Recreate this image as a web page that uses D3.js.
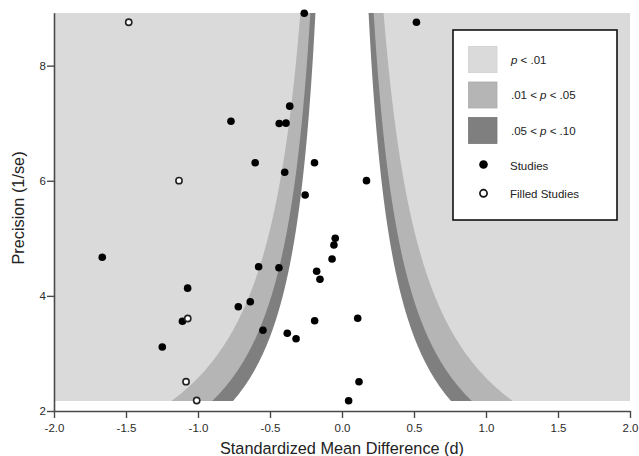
<!DOCTYPE html>
<html>
<head>
<meta charset="utf-8">
<script src="https://cdn.jsdelivr.net/npm/d3@7/dist/d3.min.js"></script>
<style>
  html, body { margin: 0; padding: 0; background: #fff; }
  svg { display: block; font-family: "Liberation Sans", Arial, sans-serif; }
</style>
</head>
<body>
<svg id="chart" width="639" height="456"></svg>
<script>
// ---- data ----
const studyD    = [-0.262, 0.517, -0.363, -0.771, -0.436, -0.389, -0.603, -0.191, -0.398, 0.170,
                   -0.256, -0.047, -0.056, -0.069, -0.176, -0.153, -0.579, -0.438, -1.665, -1.072,
                   -0.720, -0.637, -1.108, -0.549, -0.380, -0.319, -0.190, 0.109, -1.248, 0.118, 0.046];
const studyPrec = [8.911, 8.754, 7.296, 7.034, 6.996, 7.001, 6.313, 6.313, 6.148, 6.002,
                   5.753, 5.001, 4.884, 4.641, 4.427, 4.288, 4.507, 4.490, 4.671, 4.134,
                   3.812, 3.899, 3.559, 3.402, 3.350, 3.256, 3.569, 3.611, 3.112, 2.509, 2.179];
const filledD    = [-1.481, -1.132, -1.071, -1.083, -1.009];
const filledPrec = [8.754, 6.002, 3.607, 2.509, 2.182];

const zCrit = [2.576, 1.96, 1.645];           // p = .01, .05, .10 contours
const contourFills = ["#b5b5b5", "#7f7f7f", "#ffffff"];
const xTicks = [-2, -1.5, -1, -0.5, 0, 0.5, 1, 1.5, 2];
const xTickLabels = ["-2.0", "-1.5", "-1.0", "-0.5", "0.0", "0.5", "1.0", "1.5", "2.0"];
const yTicks = [2, 4, 6, 8];
const legendLabels = [["p", " < .01"], [".01 < ", "p", " < .05"], [".05 < ", "p", " < .10"]];
const legendFills = ["#dadada", "#b5b5b5", "#7f7f7f"];

// ---- scales ----
const svg = d3.select("#chart");
const x = d3.scaleLinear().domain([-2, 2]).range([54, 630]);
const y = d3.scaleLinear().domain([2, 8.92]).range([411, 12.7]);

const allPrec = studyPrec.concat(filledPrec);
const pMin = d3.min(allPrec) - 0.005, pMax = d3.max(allPrec) + 0.005;

// background p<.01 region
svg.append("rect")
  .attr("x", x(-2)).attr("y", y(pMax))
  .attr("width", x(2) - x(-2)).attr("height", y(pMin) - y(pMax))
  .attr("fill", "#dadada");

// contour bands
const precSamples = d3.range(0, 201).map(i => pMin + (pMax - pMin) * i / 200);
zCrit.forEach((z, i) => {
  const left = precSamples.map(p => [x(-z / p), y(p)]);
  const right = precSamples.slice().reverse().map(p => [x(z / p), y(p)]);
  svg.append("path")
    .attr("d", d3.line()(left.concat(right)) + "Z")
    .attr("fill", contourFills[i]);
});

// axes
const axCol = "#4a4a4a";
const xAxis = svg.append("g").attr("transform", `translate(0,${y(2)})`)
  .call(d3.axisBottom(x).tickValues(xTicks).tickFormat((d, i) => xTickLabels[i]).tickSize(7).tickSizeOuter(0));
const yAxis = svg.append("g").attr("transform", `translate(${x(-2)},0)`)
  .call(d3.axisLeft(y).tickValues(yTicks).tickFormat(d3.format("d")).tickSize(7).tickSizeOuter(0));
[xAxis, yAxis].forEach(g => {
  g.select(".domain").attr("stroke", axCol).attr("stroke-width", 1.6);
  g.selectAll(".tick line").attr("stroke", axCol).attr("stroke-width", 1.4);
  g.selectAll(".tick text").attr("fill", "#2a2a2a").attr("font-size", "11.5px")
    .attr("font-family", "Liberation Sans, Arial, sans-serif");
});
xAxis.selectAll(".tick text").attr("dy", "0.95em");
yAxis.selectAll(".tick text").attr("x", -8);

// axis titles
svg.append("text").attr("x", 342).attr("y", 454).attr("text-anchor", "middle")
  .attr("font-size", "16.3px").attr("fill", "#222").text("Standardized Mean Difference (d)");
svg.append("text").attr("transform", "translate(24,208) rotate(-90)").attr("text-anchor", "middle")
  .attr("font-size", "16.3px").attr("fill", "#222").text("Precision (1/se)");

// points
svg.append("g").selectAll("circle").data(studyD).join("circle")
  .attr("cx", d => x(d)).attr("cy", (d, i) => y(studyPrec[i])).attr("r", 3.8)
  .attr("fill", "#000");
svg.append("g").selectAll("circle").data(filledD).join("circle")
  .attr("cx", d => x(d)).attr("cy", (d, i) => y(filledPrec[i])).attr("r", 3.1)
  .attr("fill", "#fff").attr("stroke", "#222").attr("stroke-width", 1.6);

// legend
const lg = svg.append("g");
lg.append("rect").attr("x", 453).attr("y", 30).attr("width", 164).attr("height", 190)
  .attr("fill", "#fff").attr("stroke", "#111").attr("stroke-width", 1.6);
legendFills.forEach((c, i) => {
  const top = 46.5 + i * 35.5;
  lg.append("rect").attr("x", 468.5).attr("y", top).attr("width", 28.5).attr("height", 26)
    .attr("fill", c).attr("stroke", d3.color(c).darker(0.15)).attr("stroke-width", 0.8);
  const t = lg.append("text").attr("x", 511).attr("y", top + 17).attr("font-size", "11.5px").attr("fill", "#222");
  legendLabels[i].forEach(s => {
    t.append("tspan").attr("font-style", s === "p" ? "italic" : "normal").text(s);
  });
});
lg.append("circle").attr("cx", 483.5).attr("cy", 164.5).attr("r", 4.3).attr("fill", "#000");
lg.append("text").attr("x", 510).attr("y", 169.5).attr("font-size", "11.5px").attr("fill", "#222").text("Studies");
lg.append("circle").attr("cx", 483.5).attr("cy", 193.3).attr("r", 3.6)
  .attr("fill", "#fff").attr("stroke", "#111").attr("stroke-width", 1.7);
lg.append("text").attr("x", 510).attr("y", 197.8).attr("font-size", "11.5px").attr("fill", "#222").text("Filled Studies");
</script>
</body>
</html>
